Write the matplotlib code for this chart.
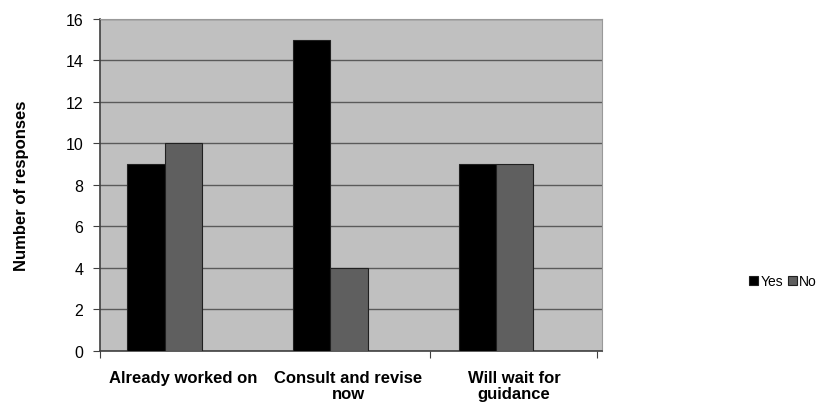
import matplotlib.pyplot as plt
import numpy as np

plt.rcParams['font.family'] = ['Liberation Sans', 'DejaVu Sans']

categories = ['Already worked on', 'Consult and revise\nnow', 'Will wait for\nguidance']
yes = [9, 15, 9]
no = [10, 4, 9]

fig = plt.figure(figsize=(8.25, 4.06), dpi=100)
ax = fig.add_axes([0.1212, 0.133, 0.6085, 0.818])
ax.set_facecolor('#C0C0C0')

x = np.arange(len(categories))
w = 0.225
# bars sit a little left of the category label
ax.bar(x - 0.335, yes, w, align='edge', color='black', edgecolor='#202020', linewidth=0.8, label='Yes', zorder=3)
ax.bar(x - 0.11, no, w, align='edge', color='#5F5F5F', edgecolor='#202020', linewidth=0.8, label='No', zorder=3)
ax.set_xlim(-0.5, 2.53)
ax.set_ylim(0, 16)
ax.set_yticks(range(0, 17, 2))
ax.yaxis.grid(True, color='#5A5A5A', linewidth=1.0, zorder=1)
ax.set_axisbelow(True)

ax.set_xticks([-0.5, 1.49, 2.5])
ax.set_xticklabels([])
ax.set_xticks(x, minor=True)
ax.set_xticklabels(categories, minor=True, fontsize=12, fontweight='bold', linespacing=1.05)
ax.tick_params(axis='x', which='minor', length=0, pad=14)
ax.tick_params(axis='x', which='major', length=5, color='#404040', direction='out')
ax.tick_params(axis='y', length=5, color='#404040', labelsize=11.5, pad=7)

for s in ['top', 'right']:
    ax.spines[s].set_color('#999999')
for s in ['left', 'bottom']:
    ax.spines[s].set_color('#404040')
    ax.spines[s].set_linewidth(1.2)

ax.set_ylabel('Number of responses', fontsize=12, fontweight='bold', labelpad=26)

fig.legend(loc='center left', bbox_to_anchor=(0.9, 0.305), ncol=2, frameon=False,
           fontsize=10, handlelength=0.65, handleheight=0.65, handletextpad=0.15,
           columnspacing=0.35, borderpad=0)

fig.savefig('out.png', dpi=100)
